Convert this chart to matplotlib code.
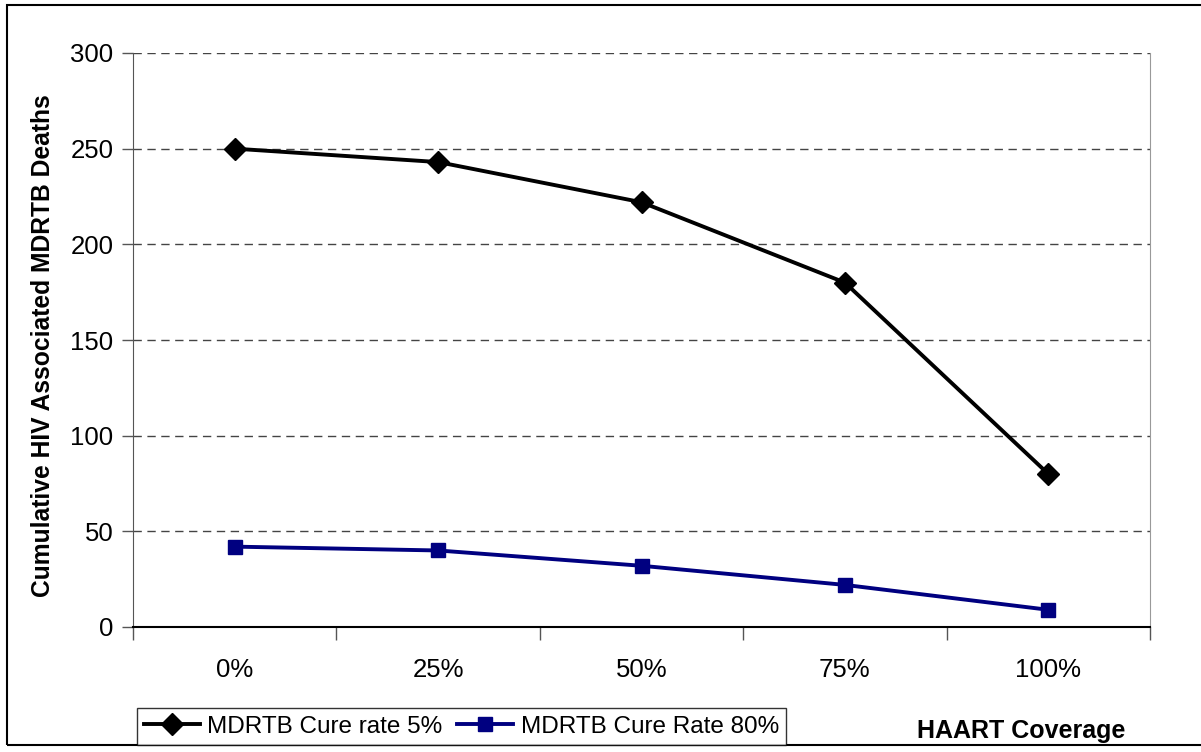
import matplotlib.pyplot as plt
from matplotlib.patches import Rectangle

plt.rcParams['font.family'] = ['Liberation Sans', 'DejaVu Sans']

# data
coverage = ['0%', '25%', '50%', '75%', '100%']
cure_5 = [250, 243, 222, 180, 80]
cure_80 = [42, 40, 32, 22, 9]

fig = plt.figure(figsize=(12.01, 7.52), dpi=100)
ax = fig.add_axes([133 / 1201, 1 - 627 / 752, (1150 - 133) / 1201, (627 - 53) / 752])

x = range(len(coverage))
l1, = ax.plot(x, cure_5, color='black', lw=2.8, marker='D', ms=11.5,
              label='MDRTB Cure rate 5%', zorder=3)
l2, = ax.plot(x, cure_80, color='#000080', lw=2.8, marker='s', ms=10.5,
              label='MDRTB Cure Rate 80%', zorder=3)

ax.set_xlim(-0.5, len(coverage) - 0.5)
ax.set_ylim(0, 300)
ax.set_yticks(range(0, 301, 50))
ax.set_xticks(x)
ax.set_xticklabels(coverage)
# tick marks between categories
ax.set_xticks([i - 0.5 for i in range(len(coverage) + 1)], minor=True)
ax.tick_params(axis='x', which='major', length=0, pad=22, labelsize=18.5)
ax.tick_params(axis='x', which='minor', length=9, width=1, color='#555555')
ax.tick_params(axis='y', length=8, width=1, color='#555555', labelsize=18.5, pad=6)

for v in range(50, 301, 50):
    ax.axhline(v, color='#444444', lw=1, ls=(0, (6, 4)), zorder=1)

ax.spines['top'].set_visible(False)
ax.spines['right'].set_color('#999999')
ax.spines['left'].set_color('#555555')
ax.spines['bottom'].set_color('black')
ax.spines['bottom'].set_linewidth(1.5)

ax.set_ylabel('Cumulative HIV Associated MDRTB Deaths', fontsize=17.7,
              fontweight='bold')
ax.yaxis.set_label_coords(-0.077, 0.49)

fig.text(1021 / 1201, 1 - 731 / 752, 'HAART Coverage', fontsize=18,
         fontweight='bold', ha='center', va='center')

leg = fig.legend(handles=[l1, l2], loc='lower left', ncol=2,
                 bbox_to_anchor=(137 / 1201, 1 - 745 / 752),
                 fontsize=17.5, frameon=True, fancybox=False, edgecolor='black',
                 handlelength=2.3, handletextpad=0.3, columnspacing=0.6,
                 borderpad=0.3, borderaxespad=0)
leg.get_frame().set_linewidth(1)

# outer frame
fig.patches.append(Rectangle((7 / 1201, 1 - 745 / 752), 1.1, (745 - 5) / 752,
                             transform=fig.transFigure, fill=False,
                             edgecolor='black', lw=1.5))

fig.savefig('out.png', dpi=100)
